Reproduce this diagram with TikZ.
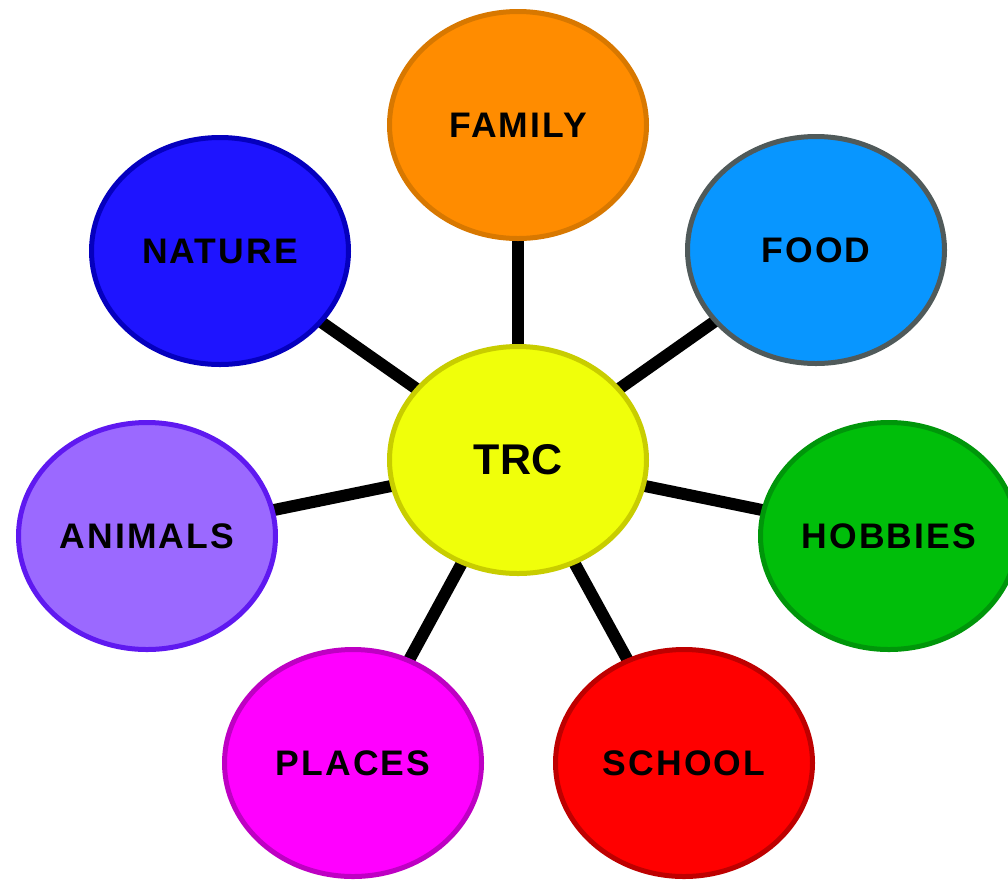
\documentclass[tikz,border=0pt]{standalone}
\usepackage{fontspec}
\setmainfont{Liberation Sans}
\usetikzlibrary{shapes.geometric,backgrounds}
\definecolor{famfill}{RGB}{255,140,0}
\definecolor{famdraw}{RGB}{216,120,0}
\definecolor{foodfill}{RGB}{8,150,255}
\definecolor{fooddraw}{RGB}{80,90,90}
\definecolor{trcfill}{RGB}{240,255,10}
\definecolor{trcdraw}{RGB}{200,205,0}
\definecolor{hobfill}{RGB}{0,190,10}
\definecolor{hobdraw}{RGB}{0,150,10}
\definecolor{plafill}{RGB}{255,0,255}
\definecolor{pladraw}{RGB}{190,0,195}
\definecolor{schfill}{RGB}{255,0,0}
\definecolor{schdraw}{RGB}{190,0,0}
\definecolor{natfill}{RGB}{30,20,255}
\definecolor{natdraw}{RGB}{5,0,190}
\definecolor{anifill}{RGB}{155,105,255}
\definecolor{anidraw}{RGB}{95,25,240}
\tikzset{
  topic/.style={ellipse, draw=#1draw, fill=#1fill, line width=5pt,
    minimum width=257pt, minimum height=227pt, inner sep=0pt,
    text depth=-2pt,
    font=\fontsize{35.5}{39}\selectfont\bfseries\addfontfeatures{LetterSpace=6}},
  hub/.style={ellipse, draw=trcdraw, fill=trcfill, line width=5pt,
    minimum width=257pt, minimum height=227pt, inner sep=0pt,
    font=\fontsize{43}{47}\selectfont\bfseries},
  link/.style={line width=12pt, black}
}
\begin{document}
\begin{tikzpicture}[x=1pt,y=-1pt]
\useasboundingbox (0,0) rectangle (1008,879);
\clip (0,0) rectangle (1008,879);
\node[hub] (trc) at (518,460) {TRC};
\node[topic=fam] (family) at (518,125) {FAMILY};
\node[topic=food] (food) at (816,250) {FOOD};
\node[topic=nat] (nature) at (220,251) {NATURE};
\node[topic=ani] (animals) at (147,536) {ANIMALS};
\node[topic=hob] (hobbies) at (889,536) {HOBBIES};
\node[topic=pla] (places) at (353,763) {PLACES};
\node[topic=sch] (school) at (684,763) {SCHOOL};
\begin{scope}[on background layer]
\foreach \n in {family,food,nature,animals,hobbies,places,school}
  \draw[link] (trc.center) -- (\n.center);
\end{scope}
\end{tikzpicture}
\end{document}
